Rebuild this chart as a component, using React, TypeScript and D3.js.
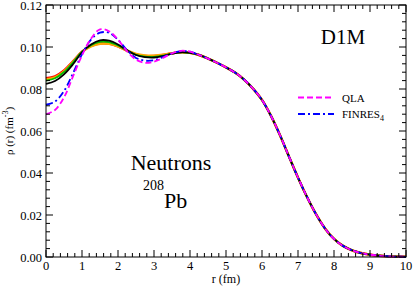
import React, { useEffect, useRef } from "react";
import * as d3 from "d3";

// radial grid (fm)
const rGrid = [
  0, 0.25, 0.5, 0.75, 1, 1.25, 1.5, 1.75, 2, 2.25, 2.5, 2.75, 3, 3.25, 3.5, 3.75, 4, 4.25, 4.5, 4.75,
  5, 5.25, 5.5, 5.75, 6, 6.25, 6.5, 6.75, 7, 7.25, 7.5, 7.75, 8, 8.25, 8.5, 8.75, 9, 9.25, 9.5, 9.75, 10,
];

// common tail (r >= 4.25)
const tail = [
  0.0962, 0.0945, 0.0925, 0.0903, 0.0878, 0.0845, 0.0802, 0.0748, 0.0672, 0.058, 0.0478, 0.0378,
  0.0286, 0.0204, 0.0136, 0.0086, 0.0053, 0.0032, 0.0019, 0.0011, 0.0006, 0.0003, 0.0002, 0.0001,
];

const blackHead = [
  0.0824, 0.0838, 0.087, 0.0918, 0.0975, 0.1012, 0.1032, 0.103, 0.1012, 0.0985, 0.0962, 0.0952,
  0.095, 0.0957, 0.0968, 0.0975, 0.0972,
];
const redHead = [
  0.0851, 0.086, 0.0888, 0.0932, 0.0978, 0.1005, 0.1017, 0.1016, 0.1003, 0.0982, 0.0965, 0.0957,
  0.0957, 0.0962, 0.097, 0.0975, 0.0972,
];
const orangeHead = [
  0.0845, 0.0855, 0.0884, 0.0929, 0.0976, 0.1003, 0.1015, 0.1015, 0.1003, 0.0984, 0.0967, 0.096,
  0.0959, 0.0963, 0.0971, 0.0976, 0.0972,
];
const greenHead = [
  0.084, 0.0851, 0.0881, 0.0927, 0.0978, 0.1009, 0.1025, 0.1023, 0.1007, 0.0983, 0.0963, 0.0954,
  0.0953, 0.0959, 0.0969, 0.0975, 0.0972,
];
const qlaHead = [
  0.068, 0.07, 0.076, 0.086, 0.096, 0.104, 0.1084, 0.1075, 0.1035, 0.098, 0.094, 0.0925, 0.093,
  0.0948, 0.097, 0.0982, 0.0978,
];
const finresHead = [
  0.0725, 0.074, 0.079, 0.0875, 0.0965, 0.1035, 0.1068, 0.1068, 0.1035, 0.0985, 0.0948, 0.0935,
  0.0937, 0.0952, 0.097, 0.098, 0.0978,
];

const xTicks = [0, 1, 2, 3, 4, 5, 6, 7, 8, 9, 10];
const yTicks = [0, 0.02, 0.04, 0.06, 0.08, 0.1, 0.12];

const series = [
  { name: "red", values: redHead.concat(tail), color: "#ff0000", width: 2.4, dash: null },
  { name: "orange", values: orangeHead.concat(tail), color: "#ffa500", width: 2.4, dash: null },
  { name: "green", values: greenHead.concat(tail), color: "#00c000", width: 1.8, dash: null },
  { name: "black", values: blackHead.concat(tail), color: "#000000", width: 1.8, dash: null },
  { name: "FINRES", values: finresHead.concat(tail), color: "#0000ff", width: 1.8, dash: "7,3,2,3" },
  { name: "QLA", values: qlaHead.concat(tail), color: "#ff00ff", width: 1.8, dash: "6,3" },
];

const W = 415;
const H = 286;
const m = { left: 46, right: 9, top: 5, bottom: 29 };
const font = "'Liberation Serif', 'DejaVu Serif', 'Times New Roman', Times, serif";

export default function App() {
  const ref = useRef<SVGSVGElement>(null);

  useEffect(() => {
    document.body.style.margin = "0";
    const svg = d3.select(ref.current);
    svg.selectAll("*").remove();

    const x = d3.scaleLinear().domain([0, 10]).range([m.left, W - m.right]);
    const y = d3.scaleLinear().domain([0, 0.12]).range([H - m.bottom, m.top]);
    const x0 = x(0), x1 = x(10), y0 = y(0), y1 = y(0.12);

    const g = svg.append("g");

    // curves
    const line = d3
      .line<number>()
      .x((d, i) => x(rGrid[i]))
      .y((d) => y(d))
      .curve(d3.curveCatmullRom.alpha(0.5));

    series.forEach((s) => {
      g.append("path")
        .attr("d", line(s.values))
        .attr("fill", "none")
        .attr("stroke", s.color)
        .attr("stroke-width", s.width)
        .attr("stroke-dasharray", s.dash)
        .attr("stroke-linejoin", "round");
    });

    // frame
    g.append("rect")
      .attr("x", x0)
      .attr("y", y1)
      .attr("width", x1 - x0)
      .attr("height", y0 - y1)
      .attr("fill", "none")
      .attr("stroke", "#000")
      .attr("stroke-width", 1);

    // ticks, inward on all sides
    const xMinor = d3.range(0, 10.001, 0.2);
    const yMinor = d3.range(0, 0.1201, 0.004);
    const tk = g.append("g").attr("stroke", "#000").attr("stroke-width", 1);
    xMinor.forEach((v) => {
      const major = xTicks.some((t) => Math.abs(t - v) < 1e-6);
      const len = major ? 7 : 4;
      tk.append("line").attr("x1", x(v)).attr("x2", x(v)).attr("y1", y0).attr("y2", y0 - len);
      tk.append("line").attr("x1", x(v)).attr("x2", x(v)).attr("y1", y1).attr("y2", y1 + len);
    });
    yMinor.forEach((v) => {
      const major = yTicks.some((t) => Math.abs(t - v) < 1e-6);
      const len = major ? 7 : 4;
      tk.append("line").attr("x1", x0).attr("x2", x0 + len).attr("y1", y(v)).attr("y2", y(v));
      tk.append("line").attr("x1", x1).attr("x2", x1 - len).attr("y1", y(v)).attr("y2", y(v));
    });

    const txt = (sel: d3.Selection<any, any, any, any>) => sel.style("font-family", font);

    // tick labels
    g.append("g")
      .selectAll("text")
      .data(xTicks)
      .enter()
      .append("text")
      .call(txt)
      .attr("x", (d) => x(d))
      .attr("y", y0 + 12.5)
      .attr("text-anchor", "middle")
      .attr("font-size", 12.5)
      .text((d) => String(d));

    g.append("g")
      .selectAll("text")
      .data(yTicks)
      .enter()
      .append("text")
      .call(txt)
      .attr("x", x0 - 4)
      .attr("y", (d) => y(d) + 5)
      .attr("text-anchor", "end")
      .attr("font-size", 12.5)
      .text((d) => d.toFixed(2));

    // axis titles
    g.append("text")
      .call(txt)
      .attr("x", (x0 + x1) / 2)
      .attr("y", 283)
      .attr("text-anchor", "middle")
      .attr("font-size", 12)
      .text("r (fm)");

    const yl = g
      .append("text")
      .call(txt)
      .attr("transform", `translate(13, ${(y0 + y1) / 2}) rotate(-90)`)
      .attr("text-anchor", "middle")
      .attr("font-size", 11);
    yl.append("tspan").text("ρ (r) (fm");
    yl.append("tspan").attr("dy", -5).attr("font-size", 8).text("-3");
    yl.append("tspan").attr("dy", 5).text(")");

    // annotations
    g.append("text")
      .call(txt)
      .attr("x", 343)
      .attr("y", 44)
      .attr("text-anchor", "middle")
      .attr("font-size", 21)
      .text("D1M");

    g.append("text")
      .call(txt)
      .attr("x", 171)
      .attr("y", 170)
      .attr("text-anchor", "middle")
      .attr("font-size", 22)
      .text("Neutrons");

    const pb = g.append("text").call(txt).attr("x", 143).attr("y", 208).attr("font-size", 22);
    pb.append("tspan").attr("font-size", 14).attr("dy", -18).text("208");
    pb.append("tspan").attr("dy", 18).text("Pb");

    // legend
    const legend = [
      { label: "QLA", sub: "", color: "#ff00ff", dash: "6,3", yy: 97.5 },
      { label: "FINRES", sub: "4", color: "#0000ff", dash: "7,3,2,3", yy: 114 },
    ];
    legend.forEach((l) => {
      g.append("line")
        .attr("x1", 298)
        .attr("x2", 334)
        .attr("y1", l.yy)
        .attr("y2", l.yy)
        .attr("stroke", l.color)
        .attr("stroke-width", 1.8)
        .attr("stroke-dasharray", l.dash);
      const t = g
        .append("text")
        .call(txt)
        .attr("x", 342)
        .attr("y", l.yy + 4)
        .attr("font-size", 11)
        .text(l.label);
      if (l.sub) t.append("tspan").attr("dy", 3).attr("font-size", 8).text(l.sub);
    });
  }, []);

  return <svg ref={ref} width={W} height={H} style={{ display: "block", background: "#fff" }} />;
}
